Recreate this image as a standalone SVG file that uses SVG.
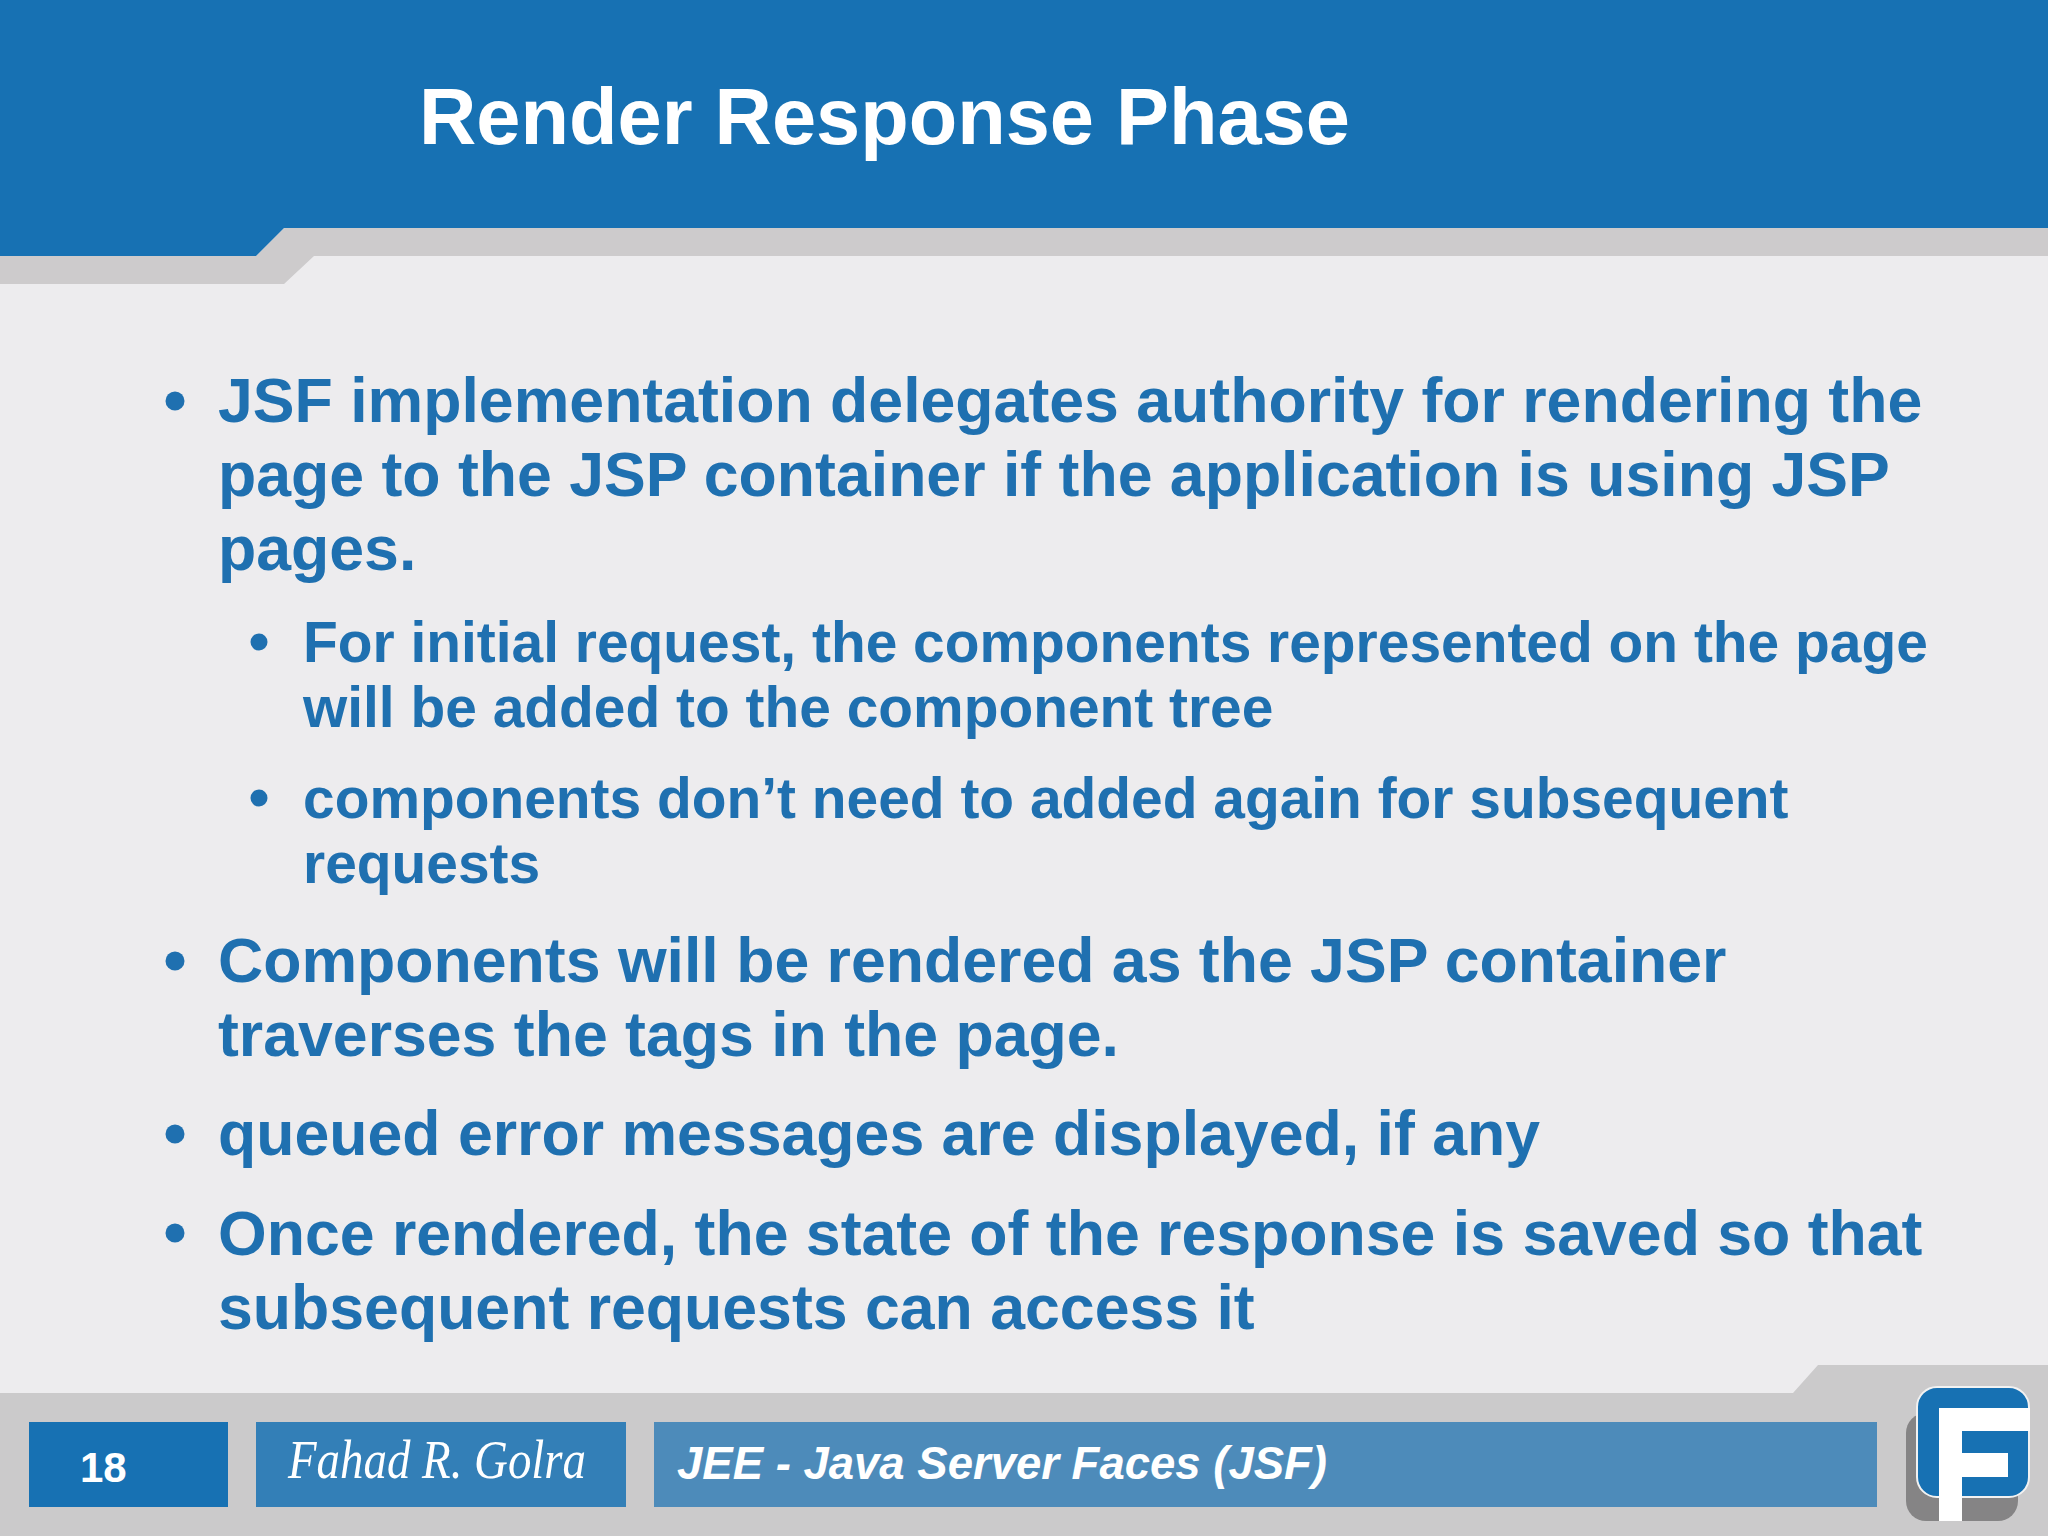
<svg xmlns="http://www.w3.org/2000/svg" width="2048" height="1536" viewBox="0 0 2048 1536">
<style>
text{font-family:"Liberation Sans",Arial,sans-serif;font-weight:700}
.l1{font-size:62.6px;fill:#1f70b0}
.l2{font-size:56.9px;fill:#1f70b0}
.w{fill:#fff}
.b{fill:#1f70b0}
</style>
<rect id="background" width="2048" height="1536" fill="#edecee"/>
<g id="header">
<path d="M0 284H284L314 256H2048V228H284L256 256H0Z" fill="#cdcbcc"/>
<path d="M0 0H2048V228H284L256 256H0Z" fill="#1771b3"/>
<text class="w" x="419" y="144" font-size="79.400">Render Response Phase</text>
</g>
<g id="body">
<circle class="b" cx="175" cy="401" r="9.500"/>
<text class="l1" x="218" y="422">JSF implementation delegates authority for rendering the</text>
<text class="l1" x="218" y="496">page to the JSP container if the application is using JSP</text>
<text class="l1" x="218" y="570">pages.</text>
<circle class="b" cx="259" cy="642" r="8.500"/>
<text class="l2" x="303" y="662">For initial request, the components represented on the page</text>
<text class="l2" x="303" y="727">will be added to the component tree</text>
<circle class="b" cx="259" cy="798" r="8.500"/>
<text class="l2" x="303" y="818">components don’t need to added again for subsequent</text>
<text class="l2" x="303" y="883">requests</text>
<circle class="b" cx="175" cy="961" r="9.500"/>
<text class="l1" x="218" y="982">Components will be rendered as the JSP container</text>
<text class="l1" x="218" y="1056">traverses the tags in the page.</text>
<circle class="b" cx="175" cy="1134" r="9.500"/>
<text class="l1" x="218" y="1155">queued error messages are displayed, if any</text>
<circle class="b" cx="175" cy="1233" r="9.500"/>
<text class="l1" x="218" y="1255">Once rendered, the state of the response is saved so that</text>
<text class="l1" x="218" y="1329">subsequent requests can access it</text>
</g>
<g id="footer">
<path d="M0 1393H1793L1818 1365H2048V1536H0Z" fill="#cbcacb"/>
<g id="page-number"><rect x="29" y="1422" width="199" height="85" fill="#1771b3"/><text class="w" x="80" y="1482" font-size="42">18</text></g>
<g id="author"><rect x="256" y="1422" width="370" height="85" fill="#337fb7"/><text class="w" x="288" y="1478" font-size="54" textLength="298" lengthAdjust="spacingAndGlyphs" style="font-family:'Liberation Serif',serif;font-style:italic;font-weight:400">Fahad R. Golra</text></g>
<g id="title"><rect x="654" y="1422" width="1223" height="85" fill="#4d8bba"/><text class="w" x="677" y="1479" font-size="45.500" font-style="italic">JEE - Java Server Faces (JSF)</text></g>
</g>
<g id="logo">
<rect x="1906" y="1413" width="112" height="108" rx="20" fill="#858485"/>
<rect x="1917" y="1387" width="112" height="110" rx="20" fill="#1771b3" stroke="#f2f2f2" stroke-width="2"/>
<path d="M1939 1521V1408H2030V1431H1962V1453H2008V1477H1962V1521Z" fill="#fff"/>
</g>
</svg>
